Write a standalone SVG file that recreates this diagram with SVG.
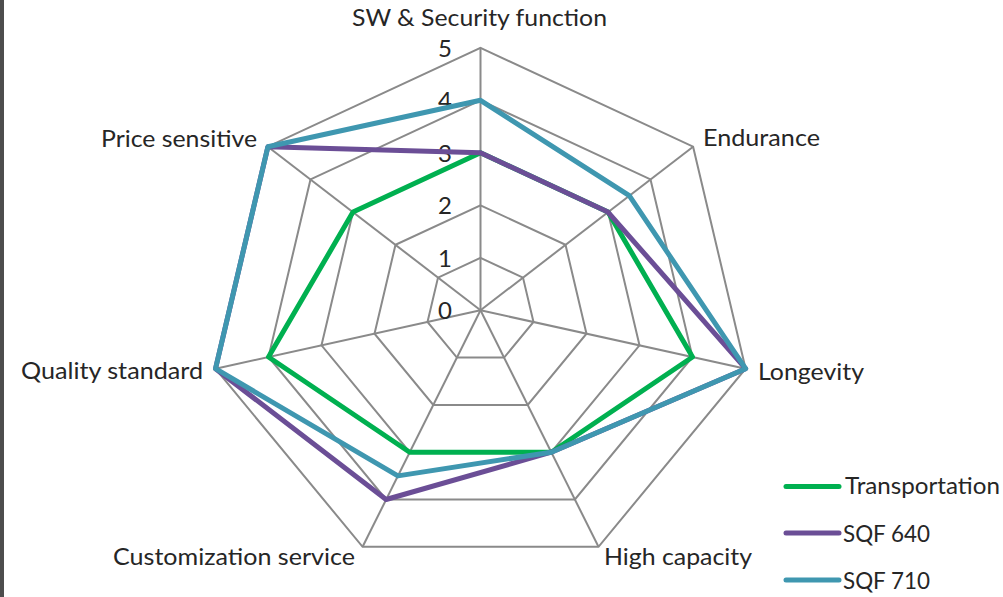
<svg xmlns="http://www.w3.org/2000/svg" width="1003" height="597" viewBox="0 0 1003 597">
  <style>
    .grid { fill: none; stroke: #8a8a8a; stroke-width: 2; stroke-linejoin: miter; }
    .spoke { stroke: #8a8a8a; stroke-width: 2; }
    .series { fill: none; stroke-width: 5; stroke-linejoin: round; stroke-linecap: round; }
    .green { stroke: #00B050; }
    .purple { stroke: #6B4E96; }
    .blue { stroke: #3F97B0; }
    .lbl { font-family: Lato, "Liberation Sans", sans-serif; font-size: 24px; fill: #262626; }
    .tick { font-family: Lato, "Liberation Sans", sans-serif; font-size: 24px; fill: #262626; text-anchor: end; }
  </style>
  <rect x="0" y="0" width="1003" height="597" fill="#ffffff"/>
  <rect x="0" y="0" width="4" height="597" fill="#4d4d4d"/>

  <g id="grid">
    <polygon class="grid" points="480.5,257.8 523.0,277.6 533.5,322.0 504.1,357.6 456.9,357.6 427.5,322.0 438.0,277.6"/>
    <polygon class="grid" points="480.5,205.3 565.5,244.8 586.5,333.7 527.7,404.9 433.3,404.9 374.5,333.7 395.5,244.8"/>
    <polygon class="grid" points="480.5,152.8 608.0,212.1 639.5,345.3 551.3,452.2 409.7,452.2 321.5,345.3 353.0,212.1"/>
    <polygon class="grid" points="480.5,100.3 650.5,179.4 692.5,357.0 574.9,499.5 386.1,499.5 268.5,357.0 310.5,179.4"/>
    <polygon class="grid" points="480.5,47.8 693.1,146.7 745.6,368.7 598.5,546.8 362.6,546.8 215.5,368.7 267.9,146.7"/>
    <line class="spoke" x1="480.5" y1="310.3" x2="480.5" y2="47.8"/>
    <line class="spoke" x1="480.5" y1="310.3" x2="693.1" y2="146.7"/>
    <line class="spoke" x1="480.5" y1="310.3" x2="745.6" y2="368.7"/>
    <line class="spoke" x1="480.5" y1="310.3" x2="598.5" y2="546.8"/>
    <line class="spoke" x1="480.5" y1="310.3" x2="362.6" y2="546.8"/>
    <line class="spoke" x1="480.5" y1="310.3" x2="215.5" y2="368.7"/>
    <line class="spoke" x1="480.5" y1="310.3" x2="267.9" y2="146.7"/>
  </g>

  <g id="ticks">
    <text class="tick" x="452" y="56.5">5</text>
    <text class="tick" x="452" y="109">4</text>
    <text class="tick" x="452" y="161.5">3</text>
    <text class="tick" x="452" y="214">2</text>
    <text class="tick" x="452" y="266.5">1</text>
    <text class="tick" x="452" y="319">0</text>
  </g>

  <g id="connectors">
    <polygon id="series-transportation" class="series green" points="480.5,152.8 608.0,212.1 692.5,357.0 551.3,452.2 409.7,452.2 268.5,357.0 353.0,212.1"/>
    <polygon id="series-sqf640" class="series purple" points="480.5,152.8 608.0,212.1 745.6,368.7 551.3,452.2 386.1,499.5 215.5,368.7 267.9,146.7"/>
    <polygon id="series-sqf710" class="series blue" points="480.5,100.3 629.3,195.7 745.6,368.7 551.3,452.2 397.9,475.9 215.5,368.7 267.9,146.7"/>
  </g>

  <g id="axis-sw">
    <text class="lbl" x="352" y="26" textLength="255" lengthAdjust="spacingAndGlyphs">SW &amp; Security function</text>
  </g>
  <g id="axis-endurance">
    <text class="lbl" x="703" y="146" textLength="117" lengthAdjust="spacingAndGlyphs">Endurance</text>
  </g>
  <g id="axis-longevity">
    <text class="lbl" x="758" y="380" textLength="106" lengthAdjust="spacingAndGlyphs">Longevity</text>
  </g>
  <g id="axis-high-capacity">
    <text class="lbl" x="604" y="565" textLength="148" lengthAdjust="spacingAndGlyphs">High capacity</text>
  </g>
  <g id="axis-customization">
    <text class="lbl" x="113" y="565" textLength="242" lengthAdjust="spacingAndGlyphs">Customization service</text>
  </g>
  <g id="axis-quality">
    <text class="lbl" x="21" y="379" textLength="182" lengthAdjust="spacingAndGlyphs">Quality standard</text>
  </g>
  <g id="axis-price">
    <text class="lbl" x="101" y="147" textLength="156" lengthAdjust="spacingAndGlyphs">Price sensitive</text>
  </g>

  <g id="legend">
    <g id="legend-transportation">
      <line class="series green" x1="786" y1="486.5" x2="839" y2="486.5"/>
      <text class="lbl" x="845" y="494" textLength="155" lengthAdjust="spacingAndGlyphs">Transportation</text>
    </g>
    <g id="legend-sqf640">
      <line class="series purple" x1="786" y1="533" x2="839" y2="533"/>
      <text class="lbl" x="843" y="541.5" textLength="87" lengthAdjust="spacingAndGlyphs">SQF 640</text>
    </g>
    <g id="legend-sqf710">
      <line class="series blue" x1="786" y1="580" x2="839" y2="580"/>
      <text class="lbl" x="843" y="589" textLength="87" lengthAdjust="spacingAndGlyphs">SQF 710</text>
    </g>
  </g>
</svg>
